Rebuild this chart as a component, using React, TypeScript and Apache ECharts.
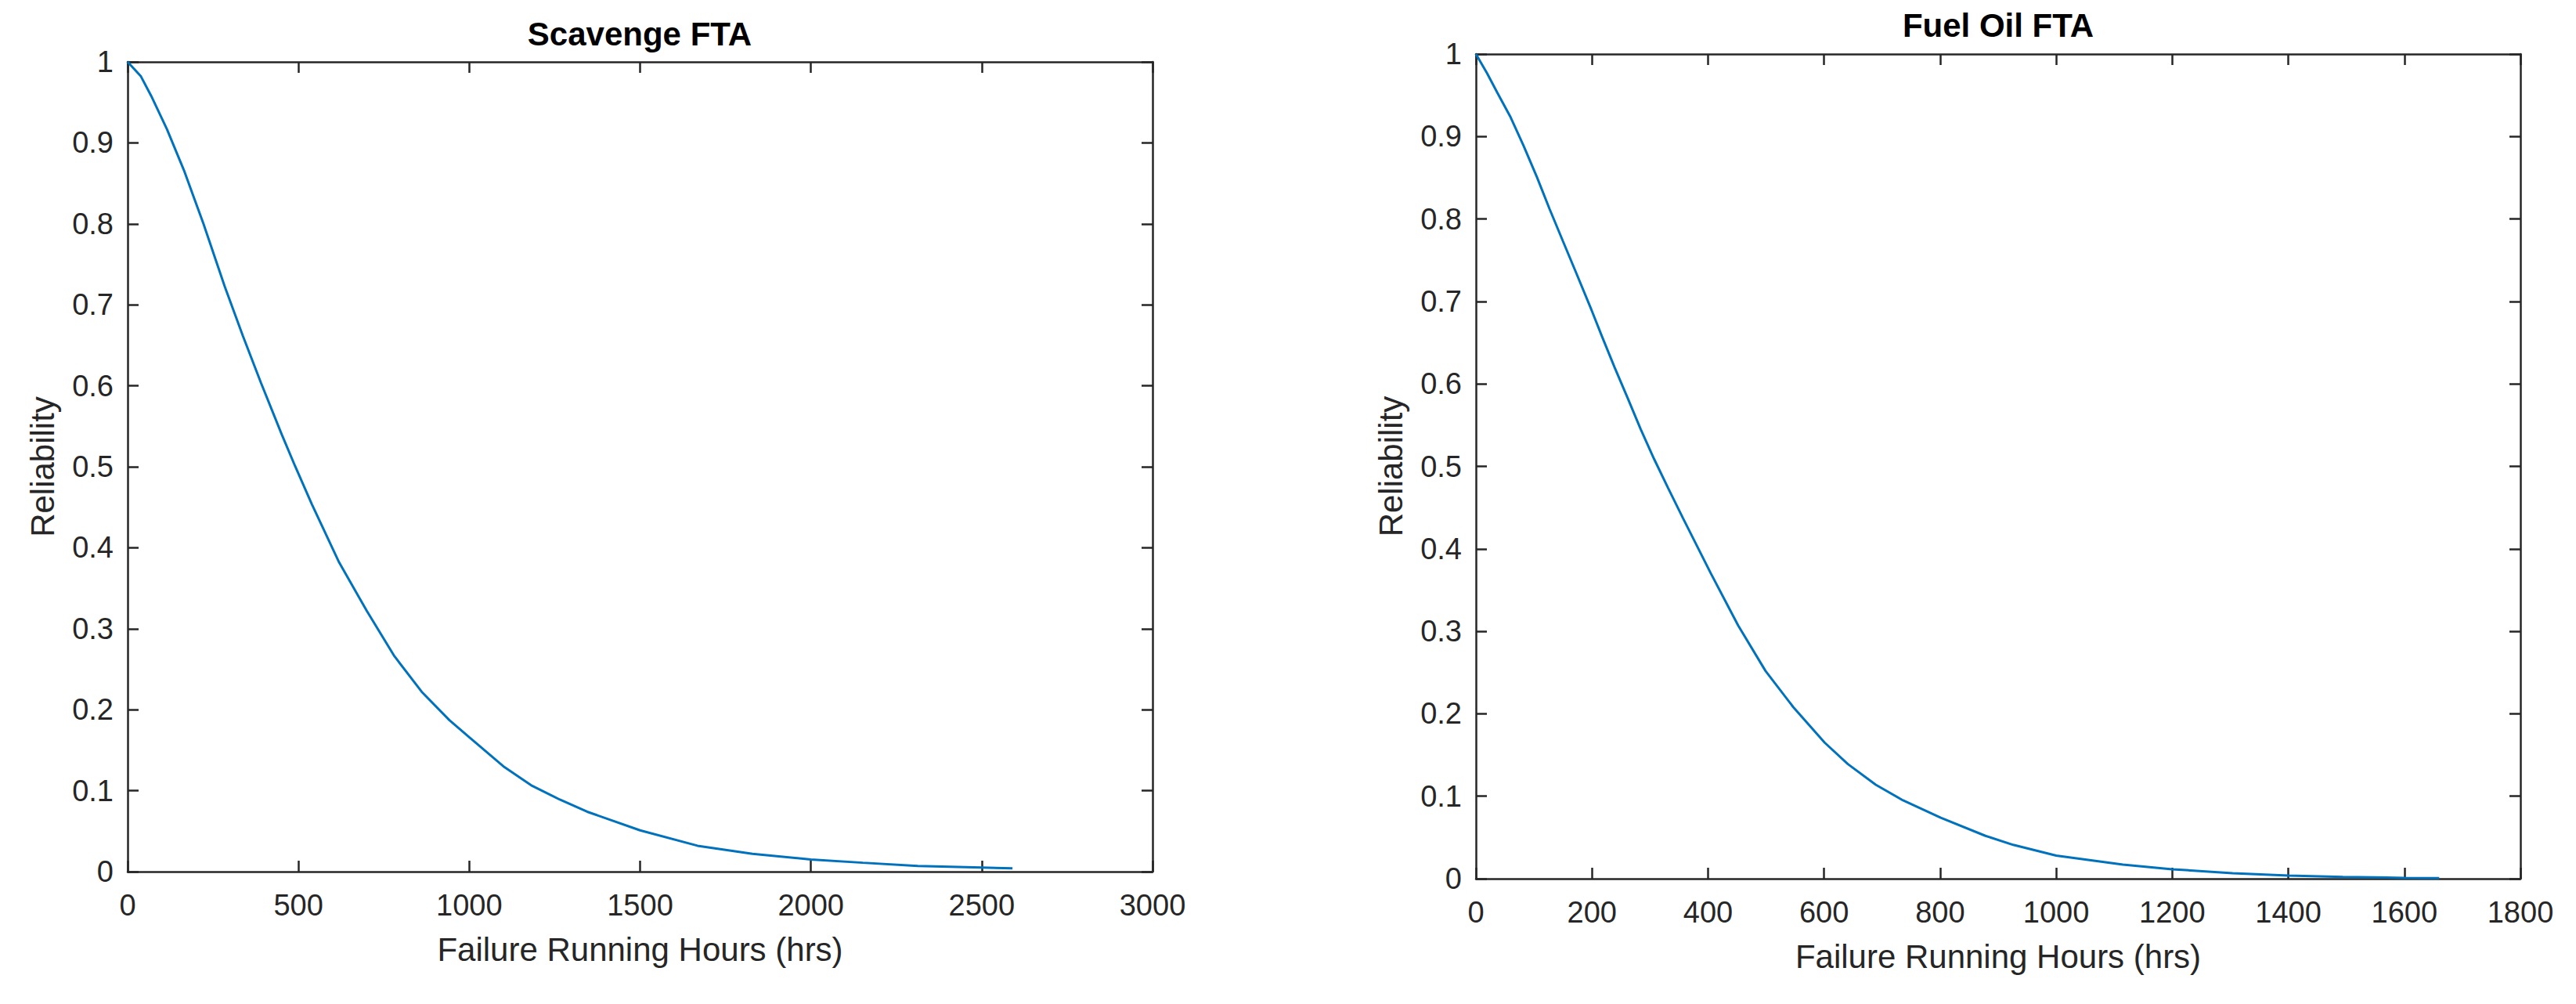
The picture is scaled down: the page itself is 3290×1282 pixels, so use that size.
import React, { useEffect, useRef } from "react";
import * as echarts from "echarts";

const scavengeHours = [0, 39, 69, 115, 165, 222, 284, 337, 390, 451, 490, 539, 619, 700, 781, 861, 942, 1000, 1103, 1184, 1265, 1345, 1500, 1668, 1829, 2000, 2152, 2313, 2500, 2590];
const scavengeReliability = [1, 0.982, 0.958, 0.917, 0.866, 0.8, 0.723, 0.662, 0.604, 0.54, 0.501, 0.454, 0.382, 0.322, 0.266, 0.222, 0.187, 0.166, 0.129, 0.106, 0.089, 0.074, 0.051, 0.032, 0.022, 0.015, 0.011, 0.007, 0.005, 0.004];

const fuelOilHours = [0, 19, 37, 60, 82, 105, 127, 150, 172, 199, 217, 239, 262, 284, 307, 331, 357, 405, 452, 499, 547, 601, 641, 689, 736, 801, 878, 926, 1000, 1115, 1200, 1304, 1400, 1494, 1600, 1660];
const fuelOilReliability = [1, 0.977, 0.953, 0.923, 0.889, 0.851, 0.812, 0.773, 0.736, 0.69, 0.658, 0.62, 0.582, 0.545, 0.509, 0.474, 0.437, 0.37, 0.307, 0.252, 0.208, 0.165, 0.139, 0.114, 0.095, 0.074, 0.052, 0.041, 0.028, 0.017, 0.0115, 0.0067, 0.0038, 0.0022, 0.001, 0.0006];

const chartTitles = ["Scavenge FTA", "Fuel Oil FTA"];
const xAxisName = "Failure Running Hours (hrs)";
const yAxisName = "Reliability";
const xRanges = [
  { min: 0, max: 3000, interval: 500 },
  { min: 0, max: 1800, interval: 200 },
];
const yRange = { min: 0, max: 1, interval: 0.1 };

const AXIS_COLOR = "#262626";
const FONT = "Liberation Sans, Arial, sans-serif";

export default function App() {
  const ref = useRef<HTMLDivElement>(null);
  useEffect(() => {
    if (!ref.current) return;
    const chart = echarts.init(ref.current, null, { renderer: "svg" });

    const grids = [
      { left: 163, top: 79, width: 1309, height: 1034 },
      { left: 1885, top: 69, width: 1334, height: 1053 },
    ];

    const axisLine = { show: true, onZero: false, lineStyle: { color: AXIS_COLOR, width: 2.5 } };
    const axisTick = { show: true, inside: true, length: 14, lineStyle: { color: AXIS_COLOR, width: 2.5 } };
    const labelStyle = { color: AXIS_COLOR, fontSize: 38, fontFamily: FONT };
    const nameStyle = { color: AXIS_COLOR, fontSize: 42, fontFamily: FONT };
    const fmt = (v: number) => String(Math.round(v * 1000) / 1000);

    const xAxes: any[] = [];
    const yAxes: any[] = [];
    grids.forEach((g, i) => {
      xAxes.push({
        type: "value",
        gridIndex: i,
        position: "bottom",
        ...xRanges[i],
        axisLine,
        axisTick,
        splitLine: { show: false },
        axisLabel: { ...labelStyle, margin: 24, formatter: fmt, showMinLabel: true, showMaxLabel: true },
        name: xAxisName,
        nameLocation: "middle",
        nameGap: 78,
        nameTextStyle: nameStyle,
      });
      xAxes.push({
        type: "value",
        gridIndex: i,
        position: "top",
        ...xRanges[i],
        axisLine,
        axisTick,
        splitLine: { show: false },
        axisLabel: { show: false },
      });
      yAxes.push({
        type: "value",
        gridIndex: i,
        position: "left",
        ...yRange,
        axisLine,
        axisTick,
        splitLine: { show: false },
        axisLabel: { ...labelStyle, margin: 18, formatter: fmt, showMinLabel: true, showMaxLabel: true },
        name: yAxisName,
        nameLocation: "middle",
        nameGap: 88,
        nameTextStyle: nameStyle,
      });
      yAxes.push({
        type: "value",
        gridIndex: i,
        position: "right",
        ...yRange,
        axisLine,
        axisTick,
        splitLine: { show: false },
        axisLabel: { show: false },
      });
    });

    const titleCenters = [
      { x: 817, y: 43 },
      { x: 2552, y: 32 },
    ];

    chart.setOption({
      animation: false,
      backgroundColor: "#ffffff",
      grid: grids.map((g) => ({ ...g, containLabel: false })),
      xAxis: xAxes,
      yAxis: yAxes,
      graphic: chartTitles.map((t, i) => ({
        type: "text",
        x: titleCenters[i].x,
        y: titleCenters[i].y,
        style: {
          text: t,
          font: `bold 42px ${FONT}`,
          fill: "#000000",
          textAlign: "center",
          textVerticalAlign: "middle",
        },
      })),
      series: [
        {
          type: "line",
          xAxisIndex: 0,
          yAxisIndex: 0,
          showSymbol: false,
          smooth: false,
          lineStyle: { color: "#0072BD", width: 3 },
          data: scavengeHours.map((h, k) => [h, scavengeReliability[k]]),
        },
        {
          type: "line",
          xAxisIndex: 2,
          yAxisIndex: 2,
          showSymbol: false,
          smooth: false,
          lineStyle: { color: "#0072BD", width: 3 },
          data: fuelOilHours.map((h, k) => [h, fuelOilReliability[k]]),
        },
      ],
    });
    return () => chart.dispose();
  }, []);

  return (
    <div
      ref={ref}
      style={{ position: "fixed", left: 0, top: 0, width: 3290, height: 1282, background: "#fff" }}
    />
  );
}
